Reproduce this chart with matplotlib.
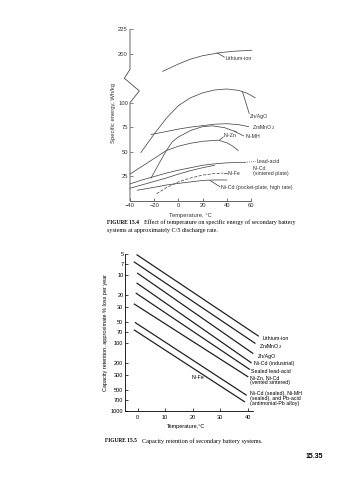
"""Book page: specific energy vs temperature (fig 15.4) and capacity retention (fig 15.5)."""
import numpy as np
import matplotlib
matplotlib.use("Agg")
import matplotlib.pyplot as plt

SANS = ["Liberation Sans", "DejaVu Sans"]
SERIF = ["Liberation Serif", "DejaVu Serif"]
plt.rcParams.update({
    "font.family": SANS,
    "axes.linewidth": 0.6,
    "xtick.major.width": 0.5, "ytick.major.width": 0.5,
    "xtick.major.size": 2.5, "ytick.major.size": 2.5,
    "xtick.direction": "in", "ytick.direction": "in",
    "xtick.major.pad": 1.8, "ytick.major.pad": 1.5,
})

W, H = 357, 480
LINE1 = "#4a4a4a"
LINE2 = "#222222"

# ---- Figure 15.4: specific energy (Wh/kg) vs temperature (C) ----
# values above the axis break (Li-ion) are shifted down by BREAK_SHIFT
BREAK_SHIFT = 50
li_t = [-13, 0, 10, 20, 35, 45, 60.5]
li_e = [182, 189.5, 194.5, 198, 201.2, 202.5, 203.6]
znago_t = [-31, -20, -10, 0, 10, 20, 30, 40, 50, 57, 63.5]
znago_e = [49, 68, 84, 97, 105, 110, 113, 114, 112.5, 109.5, 105]
znmno2_t = [-22.6, -10, 0, 10, 20, 30, 40, 50, 58]
znmno2_e = [67.5, 70.5, 73, 75, 76.5, 78, 78.5, 77.5, 75.5]
nimh_t = [-22.6, -15, -10, -5, 0, 10, 20, 28, 38, 48]
nimh_e = [23, 40, 51, 60, 65, 71.5, 75.5, 76.3, 74.5, 70]
nizn_t = [-40, -30, -20, -10, 0, 10, 20, 33, 40, 45, 49.5]
nizn_e = [27, 35, 43, 51, 55.5, 58.5, 60.5, 61.7, 59, 55.5, 51]
pb_t = [-40, -30, -20, -10, 0, 10, 20, 30, 40, 50, 55]
pb_e = [17, 21, 24.5, 28, 31, 33.5, 36, 37.5, 38.5, 39, 39]
nicd_s_t = [-40, -30, -20, -10, 0, 10, 20, 30]
nicd_s_e = [12.5, 16, 19.5, 23, 27, 30.5, 33.5, 36]
nife_t = [-18, -10, 0, 10, 20, 30, 37]
nife_e = [7, 13, 19, 23, 26, 27.5, 28]
nicd_p_t = [-34, -20, -10, 0, 10, 20, 30, 40]
nicd_p_e = [10.5, 13.5, 15.8, 17.5, 19, 20.5, 21, 21]

f1_xticks = [-40, -20, 0, 20, 40, 60]
f1_ytick_vals = [25, 50, 75, 100, 200, 225]

# ---- Figure 15.5: capacity loss (% per year, log) vs temperature ----
f2_names = ["Lithium-ion", "Zn/MnO$_2$", "Zn/AgO", "Ni-Cd (industrial)",
            "Sealed lead-acid", "Ni-Zn, Ni-Cd\n(vented sintered)",
            "Ni-Cd (sealed), Ni-MH\n(sealed), and Pb-acid\n(antimonial-Pb alloy)",
            "Ni-Fe"]
f2_t0 = [-0.2, -1.2, 0, -0.2, -0.5, -1.2, -0.8, -1.2]
f2_t1 = [43.8, 42.6, 41.8, 41.2, 40.6, 40.0, 39.4, 38.8]
f2_v0 = [5.1, 6.5, 9.5, 13.3, 18.7, 26.9, 50.5, 64.7]
f2_v1 = [79, 101, 142, 195, 244, 313, 582, 730]
f2_xticks = [0, 10, 20, 30, 40]
f2_yticks = [5, 7, 10, 20, 30, 50, 70, 100, 200, 300, 500, 700, 1000]


def px_rect(x0, x1, ytop, ybot):
    return [x0 / W, 1 - ybot / H, (x1 - x0) / W, (ybot - ytop) / H]


fig = plt.figure(figsize=(W / 100, H / 100), dpi=100)
fig.patch.set_facecolor("white")
renderer = fig.canvas.get_renderer()


def caption(x, y, label, rest):
    """Bold 'FIGURE n' followed by the caption text in roman."""
    t = fig.text(x / W, 1 - y / H, label, family=SERIF, fontsize=4.0,
                 weight="bold", va="center")
    bb = t.get_window_extent(renderer=renderer)
    fig.text((bb.x1 + 5) / W, 1 - y / H, rest, family=SERIF, fontsize=4.4,
             va="center")


# ================= Figure 15.4 =================
ax1 = fig.add_axes(px_rect(130, 251, 29.3, 200.5))
ax1.set_xlim(-40, 60)
ax1.set_ylim(0, 175)
for s in ["top", "right", "left"]:
    ax1.spines[s].set_visible(False)
ax1.spines["bottom"].set_color(LINE1)

# broken left axis
ax1.plot([-40, -40, -32.3, -44.7, -40, -40], [0, 100, 112, 125, 134, 175],
         color=LINE1, lw=0.6, clip_on=False)

ax1.set_xticks(f1_xticks)
ax1.set_xticklabels(["\u221240", "\u221220", "0", "20", "40", "60"], fontsize=4.2)
ytick_pos = [v if v <= 100 else v - BREAK_SHIFT for v in f1_ytick_vals]
ax1.set_yticks(ytick_pos)
ax1.set_yticklabels([str(v) for v in f1_ytick_vals], fontsize=4.2)
ax1.tick_params(colors=LINE1, labelcolor="#333333")

kw = dict(color=LINE1, lw=0.55, clip_on=False)
ax1.plot(li_t, np.array(li_e) - BREAK_SHIFT, **kw)
ax1.plot(znago_t, znago_e, **kw)
ax1.plot(znmno2_t, znmno2_e, **kw)
ax1.plot(nimh_t, nimh_e, **kw)
ax1.plot(nizn_t, nizn_e, **kw)
ax1.plot(pb_t, pb_e, **kw)
ax1.plot(nicd_s_t, nicd_s_e, **kw)
ax1.plot(nife_t, nife_e, color=LINE1, lw=0.55, ls=(0, (4, 2)))
ax1.plot(nicd_p_t, nicd_p_e, **kw)

# leaders
ax1.plot([32, 38], [201 - BREAK_SHIFT, 196.5 - BREAK_SHIFT], **kw)
ax1.plot([53, 58.5], [111, 89], **kw)
ax1.plot([46, 54], [71, 66], **kw)
ax1.plot([34, 37], [61.7, 65], **kw)
ax1.plot([55, 64], [39, 40], color=LINE1, lw=0.6, ls=(0, (1, 1.5)), clip_on=False)
ax1.plot([26, 34.5], [20.6, 14], **kw)
ax1.plot([37.5, 40], [28, 28], **kw)

tkw = dict(fontsize=3.8, color="#333333", va="center", ha="left", clip_on=False)
ax1.text(38.8, 195 - BREAK_SHIFT, "Lithium-ion", **tkw)
ax1.text(59.3, 86, "Zn/AgO", **tkw)
ax1.text(60.5, 75, "Zn/MnO$_2$", **tkw)
ax1.text(37.7, 66, "Ni-Zn", **tkw)
ax1.text(55.5, 65, "Ni-MH", **tkw)
ax1.text(64.5, 40, "Lead-acid", **tkw)
ax1.text(61.5, 30, "Ni-Cd\n(sintered plate)", linespacing=1.1, **tkw)
ax1.text(40.5, 28, "Ni-Fe", **tkw)
ax1.text(35, 13, "Ni-Cd (pocket-plate, high rate)", **tkw)

ax1.text(-0.14, 0.51, "Specific energy, Wh/kg", rotation=90, fontsize=4.2,
         color="#333333", ha="center", va="center", transform=ax1.transAxes)
ax1.text(0.5, -0.075, "Temperature, \u00b0C", fontsize=4.2, color="#333333",
         ha="center", va="top", transform=ax1.transAxes)

caption(107, 222, "FIGURE 15.4",
        "Effect of temperature on specific energy of secondary battery")
fig.text(107 / W, 1 - 230.5 / H, "systems at approximately C/5 discharge rate.",
         family=SERIF, fontsize=4.4, va="center")

# ================= Figure 15.5 =================
ax2 = fig.add_axes(px_rect(125.5, 253.3, 254.3, 411))
ax2.set_yscale("log")
ax2.set_xlim(-4.4, 42)
ax2.set_ylim(1000, 5)
for s in ["top", "right"]:
    ax2.spines[s].set_visible(False)
ax2.set_xticks(f2_xticks)
ax2.set_xticklabels([str(v) for v in f2_xticks], fontsize=4.0)
ax2.set_yticks(f2_yticks)
ax2.set_yticklabels([str(v) for v in f2_yticks], fontsize=4.0)
ax2.yaxis.set_minor_locator(matplotlib.ticker.NullLocator())
ax2.tick_params(axis="x", pad=2.8)

for t0, t1, v0, v1 in zip(f2_t0, f2_t1, f2_v0, f2_v1):
    ax2.plot([t0, t1], [v0, v1], color=LINE2, lw=0.9, clip_on=False)

lab_t = [45.3, 44.0, 43.5, 42.2, 41.3, 40.7, 40.7, 19.6]
lab_v = [85.5, 114, 156, 204, 265, 353, 651, 324]
for name, t, v in zip(f2_names, lab_t, lab_v):
    ax2.text(t, v, name, fontsize=3.8, va="center", ha="left",
             linespacing=1.05, clip_on=False)

ax2.text(-0.155, 0.5, "Capacity retention, approximate % loss per year",
         rotation=90, fontsize=4.0, ha="center", va="center",
         transform=ax2.transAxes)
ax2.text(0.47, -0.085, "Temperature,\u00b0C", fontsize=4.0,
         ha="center", va="top", transform=ax2.transAxes)

caption(105, 441, "FIGURE 15.5", "Capacity retention of secondary battery systems.")

fig.text(314 / W, 1 - 457 / H, "15.35", fontsize=5, weight="bold",
         ha="center", va="center")

fig.savefig("out.png", dpi=100, facecolor="white")
